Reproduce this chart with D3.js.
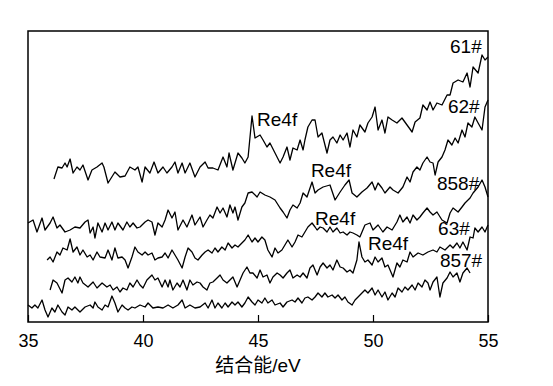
<!DOCTYPE html>
<html>
<head>
<meta charset="utf-8">
<script src="https://cdnjs.cloudflare.com/ajax/libs/d3/7.8.5/d3.min.js"></script>
<style>
  body { margin: 0; background: #fff; }
  svg { display: block; }
  text { font-family: "Liberation Sans", Arial, "Noto Sans CJK SC", sans-serif; fill: #000; }
</style>
</head>
<body>
<div id="chart"></div>
<script>
// binding energy ticks (eV)
var xTicks = [35, 40, 45, 50, 55];

// XPS spectra, [binding energy eV, intensity a.u.]
var s61 = [[36.13,142],[36.30,154],[36.48,153],[36.61,158],[36.70,154],[36.83,162],[36.96,148],[37.13,154],[37.26,151],[37.39,156],
  [37.61,141],[37.78,151],[38.00,154],[38.22,158],[38.30,154],[38.48,138],[38.78,149],[39.00,144],[39.22,145],[39.43,154],
  [39.65,151],[39.78,154],[39.96,139],[40.09,154],[40.30,148],[40.48,159],[40.65,148],[40.87,154],[41.04,148],[41.26,154],
  [41.39,159],[41.52,148],[41.70,158],[41.83,148],[42.04,158],[42.26,144],[42.48,154],[42.70,159],[42.83,153],[43.04,153],
  [43.26,151],[43.48,164],[43.65,154],[43.74,168],[43.91,151],[44.13,168],[44.30,163],[44.43,158],[44.57,164],[44.74,205],
  [44.87,183],[45.09,186],[45.22,181],[45.39,174],[45.52,178],[45.74,168],[45.96,158],[46.09,164],[46.26,174],[46.39,161],
  [46.52,173],[46.70,171],[46.83,181],[46.96,171],[47.04,181],[47.17,194],[47.35,201],[47.48,201],[47.61,184],[47.78,188],
  [48.00,168],[48.13,181],[48.26,184],[48.43,178],[48.57,186],[48.70,181],[48.87,188],[49.00,174],[49.13,191],[49.30,184],
  [49.43,196],[49.65,189],[49.78,198],[49.96,204],[50.09,214],[50.22,191],[50.39,201],[50.52,188],[50.65,204],[50.83,201],
  [51.04,198],[51.26,203],[51.48,196],[51.70,189],[51.83,199],[52.04,203],[52.17,216],[52.35,211],[52.48,219],[52.61,211],
  [52.78,218],[53.00,216],[53.22,226],[53.35,226],[53.48,238],[53.70,241],[53.91,239],[54.09,248],[54.22,234],[54.35,254],
  [54.57,248],[54.74,266],[54.87,261],[55.00,264]];

var s62 = [[35.00,98],[35.22,101],[35.39,89],[35.61,103],[35.74,91],[35.96,98],[36.09,104],[36.26,93],[36.39,96],[36.61,89],
  [36.83,91],[37.04,94],[37.26,93],[37.48,99],[37.61,101],[37.70,88],[37.83,94],[37.91,83],[38.04,98],[38.22,89],
  [38.35,98],[38.48,91],[38.65,99],[38.78,91],[38.91,98],[39.13,91],[39.30,99],[39.43,94],[39.57,98],[39.74,93],
  [39.87,94],[40.09,99],[40.22,101],[40.39,99],[40.52,86],[40.65,98],[40.83,94],[40.96,101],[41.09,111],[41.26,103],
  [41.39,109],[41.52,91],[41.74,101],[41.91,94],[42.13,106],[42.26,96],[42.48,104],[42.61,94],[42.78,101],[42.91,106],
  [43.04,103],[43.22,114],[43.35,108],[43.48,113],[43.65,104],[43.78,116],[43.91,108],[44.00,114],[44.13,101],[44.30,114],
  [44.43,118],[44.57,128],[44.74,129],[44.96,124],[45.09,129],[45.30,126],[45.52,124],[45.74,121],[45.96,113],[46.09,109],
  [46.26,103],[46.39,111],[46.52,116],[46.70,113],[46.83,118],[46.96,128],[47.13,124],[47.35,139],[47.48,128],[47.61,131],
  [47.83,134],[48.13,136],[48.35,121],[48.57,129],[48.78,136],[48.96,141],[49.09,128],[49.30,124],[49.52,129],[49.74,133],
  [49.96,139],[50.09,131],[50.22,138],[50.39,133],[50.52,128],[50.74,134],[50.87,131],[51.09,128],[51.30,134],[51.48,144],
  [51.61,139],[51.74,149],[51.91,154],[52.04,151],[52.17,158],[52.35,164],[52.48,159],[52.61,158],[52.70,146],[52.83,159],
  [53.00,164],[53.13,171],[53.26,181],[53.43,176],[53.57,183],[53.70,178],[53.87,191],[54.00,184],[54.13,198],[54.30,194],
  [54.43,204],[54.57,198],[54.74,191],[54.87,214],[55.00,221]];

var s858 = [[35.83,61],[35.96,64],[36.09,59],[36.26,69],[36.39,66],[36.52,73],[36.70,71],[36.83,82],[36.96,69],[37.13,74],
  [37.26,66],[37.39,71],[37.57,64],[37.70,66],[37.83,61],[38.00,69],[38.13,64],[38.35,63],[38.48,71],[38.65,61],
  [38.78,73],[38.91,63],[39.09,64],[39.22,61],[39.35,53],[39.52,64],[39.65,74],[39.78,69],[39.96,66],[40.09,69],
  [40.22,66],[40.39,68],[40.52,61],[40.65,63],[40.83,64],[40.96,68],[41.09,63],[41.26,71],[41.39,66],[41.52,61],
  [41.70,53],[41.83,64],[41.96,73],[42.13,69],[42.26,63],[42.39,61],[42.57,66],[42.70,69],[42.83,71],[43.00,68],
  [43.13,73],[43.26,69],[43.43,74],[43.57,71],[43.70,78],[43.87,73],[44.00,76],[44.13,74],[44.30,78],[44.43,81],
  [44.57,86],[44.74,79],[44.87,83],[45.00,79],[45.17,84],[45.30,81],[45.43,71],[45.61,64],[45.74,73],[45.87,68],
  [46.04,71],[46.17,76],[46.30,81],[46.48,74],[46.61,79],[46.74,86],[46.91,84],[47.04,89],[47.17,94],[47.35,98],
  [47.48,94],[47.57,91],[47.70,94],[47.83,93],[48.00,89],[48.13,94],[48.26,89],[48.43,93],[48.57,88],[48.70,89],
  [48.87,86],[49.00,89],[49.13,88],[49.30,86],[49.43,84],[49.65,96],[49.87,98],[50.00,91],[50.22,96],[50.43,89],
  [50.61,94],[50.83,91],[51.04,99],[51.17,106],[51.30,99],[51.48,104],[51.61,98],[51.74,106],[51.91,101],[52.04,104],
  [52.17,108],[52.35,113],[52.48,109],[52.61,106],[52.78,109],[53.00,101],[53.22,98],[53.35,108],[53.48,113],[53.70,109],
  [53.87,114],[54.00,118],[54.22,123],[54.35,128],[54.57,134],[54.74,141],[54.87,134],[55.00,124]];

var s63 = [[35.96,31],[36.09,41],[36.26,38],[36.48,28],[36.61,41],[36.74,43],[36.91,39],[37.04,44],[37.17,38],[37.26,44],
  [37.39,38],[37.61,34],[37.83,39],[38.00,33],[38.22,38],[38.43,34],[38.57,36],[38.70,31],[38.87,34],[39.00,29],
  [39.13,33],[39.30,31],[39.43,38],[39.57,34],[39.74,41],[39.87,36],[40.00,33],[40.17,41],[40.39,46],[40.52,41],
  [40.65,43],[40.83,34],[40.96,41],[41.09,34],[41.17,41],[41.30,31],[41.48,38],[41.61,34],[41.74,41],[41.91,31],
  [42.04,41],[42.17,36],[42.35,39],[42.48,38],[42.61,34],[42.78,31],[42.91,38],[43.04,39],[43.22,43],[43.35,46],
  [43.48,41],[43.65,38],[43.78,41],[43.91,44],[44.09,34],[44.22,41],[44.35,48],[44.52,54],[44.65,48],[44.78,48],
  [44.96,43],[45.09,51],[45.22,44],[45.39,46],[45.52,38],[45.65,44],[45.83,48],[45.96,46],[46.09,43],[46.26,48],
  [46.39,51],[46.52,43],[46.70,46],[46.83,44],[46.96,48],[47.13,43],[47.26,53],[47.39,56],[47.57,46],[47.70,54],
  [47.83,58],[48.00,53],[48.13,56],[48.26,51],[48.43,61],[48.57,54],[48.70,53],[48.87,49],[49.00,51],[49.13,48],
  [49.30,61],[49.39,79],[49.52,64],[49.65,59],[49.78,61],[49.96,56],[50.09,64],[50.22,59],[50.39,63],[50.52,54],
  [50.65,56],[50.87,44],[51.04,58],[51.17,54],[51.30,61],[51.48,59],[51.61,69],[51.74,64],[51.96,68],[52.17,66],
  [52.39,69],[52.61,71],[52.78,69],[52.91,74],[53.13,71],[53.35,76],[53.48,73],[53.65,78],[53.78,73],[53.91,79],
  [54.09,71],[54.22,84],[54.35,83],[54.43,93],[54.57,89],[54.74,94],[54.87,89],[55.00,96]];

var s857 = [[35.00,16],[35.17,13],[35.30,16],[35.43,13],[35.61,21],[35.74,11],[35.87,4],[36.04,13],[36.17,9],[36.30,16],
  [36.48,9],[36.61,6],[36.74,14],[36.91,11],[37.04,14],[37.26,9],[37.48,14],[37.70,16],[37.83,13],[37.91,19],
  [38.04,14],[38.22,11],[38.35,16],[38.48,14],[38.65,25],[38.78,18],[38.91,9],[39.09,16],[39.22,13],[39.35,11],
  [39.52,14],[39.65,13],[39.87,16],[40.09,14],[40.22,18],[40.43,13],[40.65,14],[40.87,13],[41.09,16],[41.30,13],
  [41.52,16],[41.70,21],[41.83,13],[42.04,16],[42.26,13],[42.48,14],[42.70,18],[42.83,13],[43.00,21],[43.13,13],
  [43.26,18],[43.43,13],[43.57,18],[43.70,14],[43.87,19],[44.00,16],[44.13,19],[44.30,14],[44.43,18],[44.57,24],
  [44.74,19],[44.87,16],[45.00,21],[45.17,18],[45.30,23],[45.43,18],[45.61,21],[45.74,16],[45.96,18],[46.09,14],
  [46.26,19],[46.48,21],[46.61,19],[46.74,23],[46.91,18],[47.04,23],[47.17,24],[47.35,21],[47.48,24],[47.61,28],
  [47.78,24],[47.91,28],[48.04,24],[48.22,26],[48.35,23],[48.48,26],[48.65,21],[48.78,24],[48.91,19],[49.09,16],
  [49.22,21],[49.35,24],[49.52,28],[49.65,31],[49.78,28],[49.96,33],[50.09,26],[50.22,31],[50.39,24],[50.52,29],
  [50.65,21],[50.83,28],[50.96,24],[51.09,33],[51.26,29],[51.39,34],[51.52,31],[51.70,36],[51.83,31],[51.96,38],
  [52.13,34],[52.26,41],[52.39,38],[52.48,31],[52.61,39],[52.78,44],[52.91,24],[53.04,38],[53.22,43],[53.35,49],
  [53.48,44],[53.65,48],[53.78,39],[53.91,48],[54.09,53],[54.22,48]];

var seriesNames = ["61#", "62#", "858#", "63#", "857#"];
var seriesData = [s61, s62, s858, s63, s857];

var W = 553, H = 386;
var margin = {top: 31, right: 65, bottom: 64, left: 28};
var width = W - margin.left - margin.right,
    height = H - margin.top - margin.bottom;

var svg = d3.select("#chart").append("svg")
    .attr("width", W)
    .attr("height", H);
var g = svg.append("g")
    .attr("transform", "translate(" + margin.left + "," + margin.top + ")");

var x = d3.scaleLinear().domain([35, 55]).range([0, width]);
var y = d3.scaleLinear().domain([-1, 290]).range([height, 0]);

var line = d3.line()
    .x(function(d) { return x(d[0]); })
    .y(function(d) { return y(d[1]); });

seriesData.forEach(function(s) {
    g.append("path")
        .datum(s)
        .attr("fill", "none")
        .attr("stroke", "#000")
        .attr("stroke-width", 1.3)
        .attr("stroke-linejoin", "round")
        .attr("d", line);
});

// frame
g.append("rect")
    .attr("width", width)
    .attr("height", height)
    .attr("fill", "none")
    .attr("stroke", "#000")
    .attr("stroke-width", 1.5);

// x axis, ticks pointing inward
var xAxis = g.append("g")
    .attr("transform", "translate(0," + height + ")")
    .call(d3.axisBottom(x).tickValues(xTicks).tickSizeInner(-7).tickSizeOuter(0).tickPadding(12).tickFormat(d3.format("d")));
xAxis.select(".domain").remove();
xAxis.selectAll(".tick line").attr("stroke", "#000").attr("stroke-width", 1.2);
xAxis.selectAll(".tick text")
    .style("font-family", '"Liberation Sans", Arial, sans-serif')
    .attr("font-size", 18)
    .attr("fill", "#000");

g.append("text")
    .attr("x", width / 2)
    .attr("y", height + 50)
    .attr("text-anchor", "middle")
    .attr("font-size", 19)
    .text("结合能/eV");

// sample labels, placed in data coordinates
var nameSpots = [[53.35, 268], [53.26, 208], [52.78, 131], [52.83, 86], [52.91, 54]];
seriesNames.forEach(function(n, i) {
    g.append("text")
        .attr("x", x(nameSpots[i][0]))
        .attr("y", y(nameSpots[i][1]))
        .attr("font-size", 19)
        .text(n);
});

// Re4f peak markers
var peakSpots = [[44.96, 195], [47.30, 144], [47.48, 96], [49.78, 71]];
peakSpots.forEach(function(p) {
    g.append("text")
        .attr("x", x(p[0]))
        .attr("y", y(p[1]))
        .attr("font-size", 19)
        .text("Re4f");
});
</script>
</body>
</html>
